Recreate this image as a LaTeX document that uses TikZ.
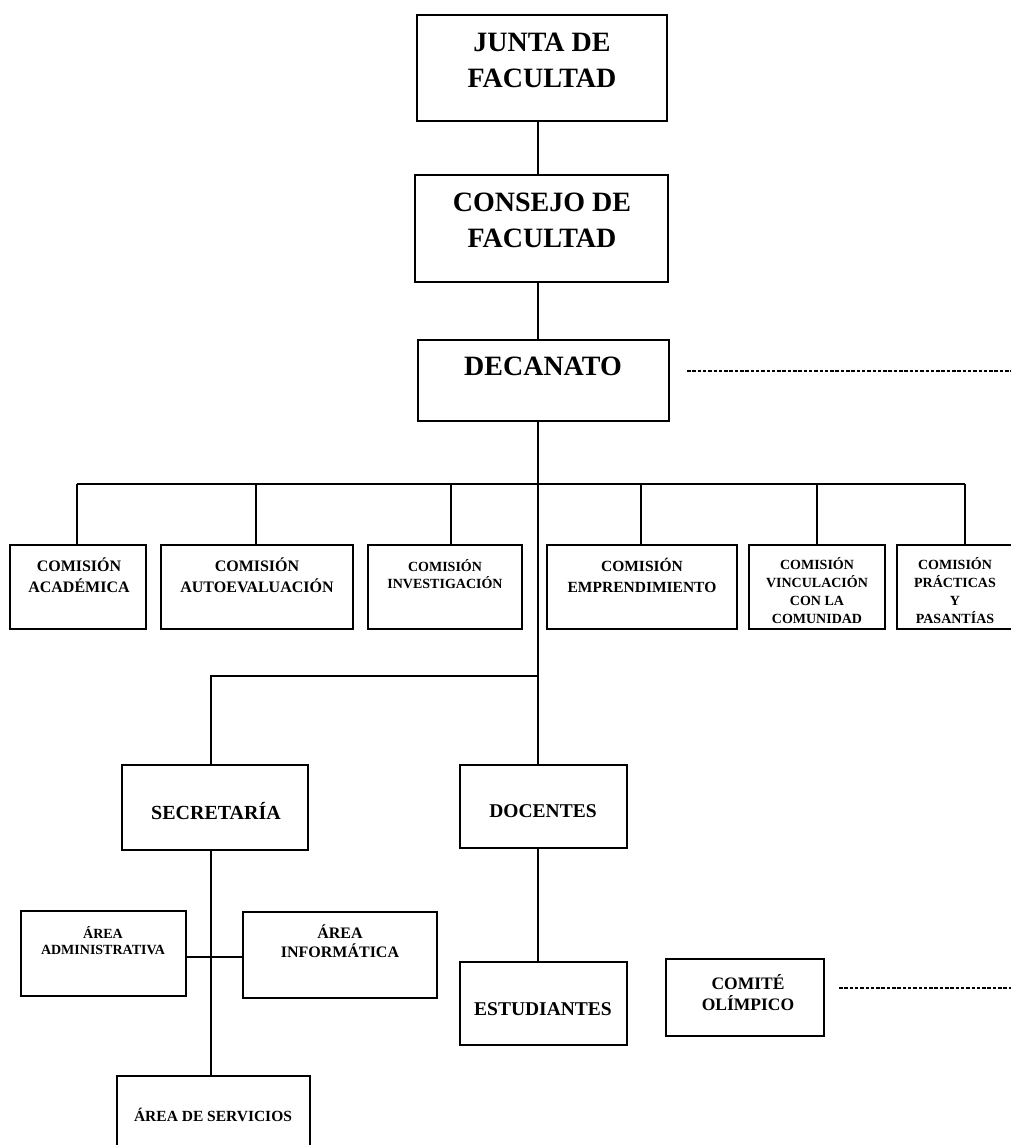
\documentclass[tikz,border=0pt]{standalone}
\usepackage{fontspec}
\setmainfont{Liberation Serif}
\usetikzlibrary{fit}
\newcommand{\fsz}[2]{\fontsize{#1}{#2}\selectfont\bfseries}
\begin{document}
\begin{tikzpicture}[x=1pt,y=-1pt,
  orgbox/.style={draw, rectangle, line width=2.8pt, inner sep=0pt},
  lbl/.style={align=center, inner sep=0pt},
  link/.style={line width=2.2pt},
  dotline/.style={line width=2.2pt, dash pattern=on 3.5pt off 1.8pt}]
\useasboundingbox (0,0) rectangle (1010,1145);

% --- boxes
\node[orgbox, fit={(417,15) (667,121)}] (junta) {};
\node[orgbox, fit={(415,175) (668,282)}] (consejo) {};
\node[orgbox, fit={(418,340) (669,421)}] (decanato) {};

\node[orgbox, fit={(10,545) (146,629)}] (cAcad) {};
\node[orgbox, fit={(161,545) (353,629)}] (cAuto) {};
\node[orgbox, fit={(368,545) (522,629)}] (cInv) {};
\node[orgbox, fit={(547,545) (737,629)}] (cEmp) {};
\node[orgbox, fit={(749,545) (885,629)}] (cVinc) {};
\node[orgbox, fit={(897,545) (1016,629)}] (cPrac) {};

\node[orgbox, fit={(122,765) (308,850)}] (secre) {};
\node[orgbox, fit={(460,765) (627,848)}] (docentes) {};
\node[orgbox, fit={(21,911) (186,996)}] (aAdm) {};
\node[orgbox, fit={(243,912) (437,998)}] (aInf) {};
\node[orgbox, fit={(117,1076) (310,1165)}] (aServ) {};
\node[orgbox, fit={(460,962) (627,1045)}] (estud) {};
\node[orgbox, fit={(666,959) (824,1036)}] (comite) {};

% --- labels
\node[lbl, font=\fsz{28}{36}] (tJunta) at (542,60) {JUNTA DE\\FACULTAD};
\node[lbl, font=\fsz{28}{36}] (tConsejo) at (542,220) {CONSEJO DE\\FACULTAD};
\node[lbl, font=\fsz{28}{36}] (tDecanato) at (543,366) {DECANATO};

\node[lbl, font=\fsz{16}{21}] (tAcad) at (79,575) {COMISIÓN\\ACADÉMICA};
\node[lbl, font=\fsz{16}{21}] (tAuto) at (257,575) {COMISIÓN\\AUTOEVALUACIÓN};
\node[lbl, font=\fsz{14}{17}] (tInv) at (445,574) {COMISIÓN\\INVESTIGACIÓN};
\node[lbl, font=\fsz{15.5}{21}] (tEmp) at (642,575) {COMISIÓN\\EMPRENDIMIENTO};
\node[lbl, font=\fsz{14}{18}] (tVinc) at (817,591) {COMISIÓN\\VINCULACIÓN\\CON LA\\COMUNIDAD};
\node[lbl, font=\fsz{14}{18}] (tPrac) at (955,591) {COMISIÓN\\PRÁCTICAS\\Y\\PASANTÍAS};

\node[lbl, font=\fsz{20}{22}] (tSecre) at (216,811) {SECRETARÍA};
\node[lbl, font=\fsz{19.5}{22}] (tDoc) at (543,811) {DOCENTES};
\node[lbl, font=\fsz{14}{16}] (tAdm) at (103,941) {ÁREA\\ADMINISTRATIVA};
\node[lbl, font=\fsz{16}{19}] (tInf) at (340,941) {ÁREA\\INFORMÁTICA};
\node[lbl, font=\fsz{15.5}{18}] (tServ) at (213,1115) {ÁREA DE SERVICIOS};
\node[lbl, font=\fsz{19.5}{22}] (tEst) at (543,1009) {ESTUDIANTES};
\node[lbl, font=\fsz{17.5}{21}] (tCom) at (748,993) {COMITÉ\\OLÍMPICO};

% --- reference points for the connector runs
\coordinate (spine) at (538,0);
\coordinate (d1) at (77,484);
\coordinate (d2) at (256,484);
\coordinate (d3) at (451,484);
\coordinate (d4) at (641,484);
\coordinate (d5) at (817,484);
\coordinate (d6) at (965,484);
\coordinate (brR) at (538,676);
\coordinate (brL) at (211,676);
\coordinate (cross) at (211,957);
\coordinate (decA) at (687,371);
\coordinate (decB) at (1012,371);
\coordinate (comA) at (839,988);
\coordinate (comB) at (1012,988);

% --- main spine
\draw[link] (junta.south -| spine) -- (consejo.north -| spine);
\draw[link] (consejo.south -| spine) -- (decanato.north -| spine);
\draw[link] (decanato.south -| spine) -- (docentes.north -| spine);

% --- commissions bus
\draw[link] (d1) -- (d6);
\draw[link] (d1) -- (d1 |- cAcad.north);
\draw[link] (d2) -- (d2 |- cAuto.north);
\draw[link] (d3) -- (d3 |- cInv.north);
\draw[link] (d4) -- (d4 |- cEmp.north);
\draw[link] (d5) -- (d5 |- cVinc.north);
\draw[link] (d6) -- (d6 |- cPrac.north);

% --- secretaría branch
\draw[link] (brR) -- (brL) -- (brL |- secre.north);
\draw[link] (secre.south -| cross) -- (aServ.north -| cross);
\draw[link] (aAdm.east |- cross) -- (aInf.west |- cross);

% --- docentes to estudiantes
\draw[link] (docentes.south -| spine) -- (estud.north -| spine);

% --- dotted relations
\draw[dotline] (decA) -- (decB);
\draw[dotline] (comA) -- (comB);
\end{tikzpicture}
\end{document}
